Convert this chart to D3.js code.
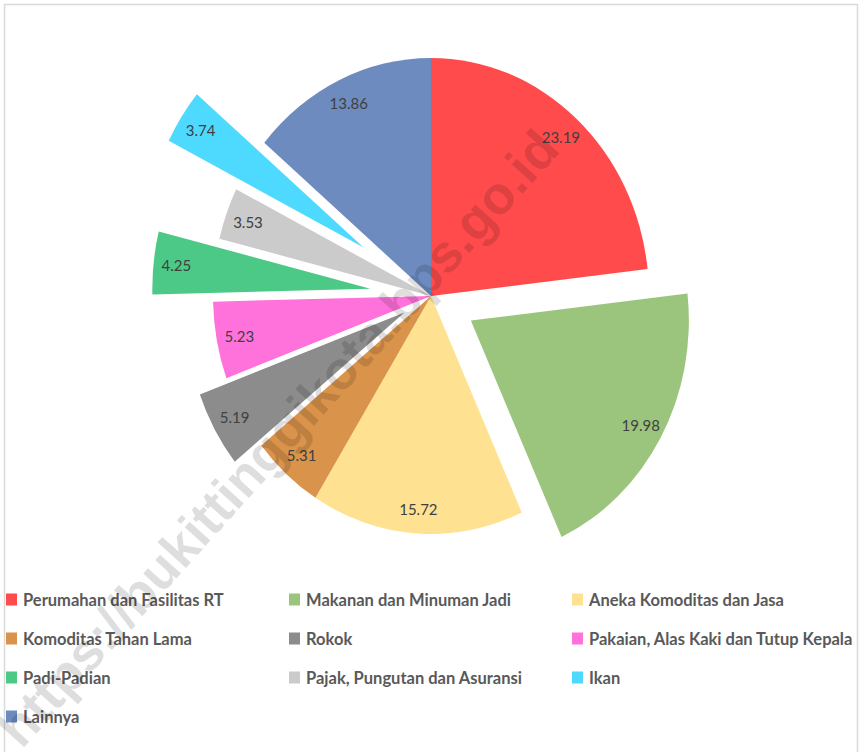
<!DOCTYPE html>
<html>
<head>
  <meta charset="utf-8">
  <script src="https://d3js.org/d3.v7.min.js"></script>
  <style>
    body { margin:0; background:#fff; }
    svg { display:block; }
  </style>
</head>
<body>
  <script>
    // data
    var kategori = ["Perumahan dan Fasilitas RT", "Makanan dan Minuman Jadi", "Aneka Komoditas dan Jasa",
                    "Komoditas Tahan Lama", "Rokok", "Pakaian, Alas Kaki dan Tutup Kepala",
                    "Padi-Padian", "Pajak, Pungutan dan Asuransi", "Ikan", "Lainnya"];
    var nilai = [23.19, 19.98, 15.72, 5.31, 5.19, 5.23, 4.25, 3.53, 3.74, 13.86];
    var warna = ["#ff4b4b", "#9bc47c", "#ffe291", "#da934a", "#8c8c8c", "#ff71db",
                 "#4cc986", "#cbcbcb", "#4ed9ff", "#6e8bbf"];
    // explosion of each slice, as fraction of radius
    var ledakan = [0, 0.21, 0, 0, 0.14, 0, 0.28, 0, 0.37, 0];

    var W = 861, H = 752;
    var cx = 431, cy = 296, r = 238, sx = 0.916;

    var svg = d3.select("body").append("svg")
      .attr("width", W)
      .attr("height", H);

    // chart area border
    svg.append("rect")
      .attr("x", 4.5).attr("y", 4.5)
      .attr("width", 853).attr("height", 800)
      .attr("fill", "#fff")
      .attr("stroke", "#d9d9d9")
      .attr("stroke-width", 1.5);

    var data = nilai.map(function(v, i) { return {nama: kategori[i], v: v, i: i}; });

    var pie = d3.pie().sort(null).value(function(d) { return d.v; });
    var arcs = pie(data);
    var arc = d3.arc().innerRadius(0).outerRadius(r);

    var g = svg.append("g")
      .attr("transform", "translate(" + cx + "," + cy + ") scale(" + sx + ",1)");

    g.selectAll("path")
      .data(arcs)
      .enter()
      .append("path")
      .attr("d", arc)
      .attr("fill", function(d) { return warna[d.data.i]; })
      .attr("transform", function(d) {
        var m = (d.startAngle + d.endAngle) / 2;
        var o = ledakan[d.data.i] * r;
        return "translate(" + (o * Math.sin(m)) + "," + (-o * Math.cos(m)) + ")";
      });

    // label data
    svg.selectAll("text.lbl")
      .data(arcs)
      .enter()
      .append("text")
      .attr("class", "lbl")
      .attr("x", function(d) {
        var m = (d.startAngle + d.endAngle) / 2;
        var rr = r * (0.895 + ledakan[d.data.i]);
        return cx + sx * rr * Math.sin(m);
      })
      .attr("y", function(d) {
        var m = (d.startAngle + d.endAngle) / 2;
        var rr = r * (0.895 + ledakan[d.data.i]);
        return cy - rr * Math.cos(m);
      })
      .attr("text-anchor", "middle")
      .attr("dominant-baseline", "central")
      .attr("font-family", "Lato, 'Open Sans', sans-serif")
      .attr("font-size", "15px")
      .attr("fill", "#404040")
      .text(function(d) { return d.data.v.toFixed(2); });

    // legend
    var leg = svg.selectAll("g.leg")
      .data(data)
      .enter()
      .append("g")
      .attr("class", "leg")
      .attr("transform", function(d, i) {
        return "translate(" + (6 + (i % 3) * 283) + "," + (599.5 + Math.floor(i / 3) * 39) + ")";
      });
    leg.append("rect")
      .attr("x", 0).attr("y", -6)
      .attr("width", 11).attr("height", 12)
      .attr("fill", function(d) { return warna[d.i]; });
    leg.append("text")
      .attr("x", 17)
      .attr("y", 0)
      .attr("dominant-baseline", "central")
      .attr("font-family", "Lato, 'Open Sans', sans-serif")
      .attr("font-weight", "bold")
      .attr("font-size", "16.5px")
      .attr("fill", "#595959")
      .text(function(d) { return d.nama; });

    // watermark
    svg.append("text")
      .attr("transform", "translate(278,438) rotate(-48)")
      .attr("text-anchor", "middle")
      .attr("dominant-baseline", "central")
      .attr("font-family", "'Liberation Sans', Arial, sans-serif")
      .attr("font-weight", "bold")
      .attr("font-size", "53px")
      .attr("fill", "#000")
      .attr("fill-opacity", 0.13)
      .text("https://bukittinggikota.bps.go.id");
  </script>
</body>
</html>
